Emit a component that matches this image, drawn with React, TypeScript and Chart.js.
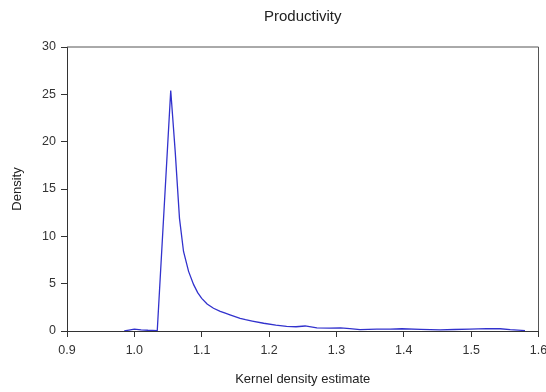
import React, { useEffect, useRef } from "react";
import { Chart, registerables } from "chart.js";

Chart.register(...registerables);

const xValues = [0.985, 0.992, 1.0, 1.01, 1.02, 1.034, 1.054, 1.0607, 1.067, 1.073, 1.0805, 1.088, 1.094, 1.1, 1.108, 1.1175, 1.1275, 1.135, 1.142, 1.157, 1.165, 1.175, 1.192, 1.21, 1.226, 1.24, 1.2535, 1.271, 1.29, 1.306, 1.32, 1.335, 1.36, 1.38, 1.397, 1.425, 1.454, 1.475, 1.498, 1.523, 1.543, 1.558, 1.58];
const densityValues = [0.0, 0.1, 0.2, 0.12, 0.08, 0.05, 25.4, 18.9, 11.9, 8.4, 6.3, 4.9, 4.05, 3.45, 2.85, 2.4, 2.08, 1.88, 1.7, 1.34, 1.2, 1.05, 0.82, 0.62, 0.48, 0.45, 0.53, 0.32, 0.3, 0.32, 0.25, 0.15, 0.2, 0.2, 0.24, 0.18, 0.12, 0.16, 0.2, 0.26, 0.24, 0.14, 0.05];
const xTickMin = 0.9;
const xTickMax = 1.6;
const xTickStep = 0.1;
const yTickMin = 0;
const yTickMax = 30;
const yTickStep = 5;
const chartTitle = "Productivity";
const xAxisTitle = "Kernel density estimate";
const yAxisTitle = "Density";

const FONT = "'Liberation Sans', Arial, sans-serif";

const frameLines = {
  id: "frameLines",
  afterDatasetsDraw(chart: any) {
    const { ctx, chartArea } = chart;
    ctx.save();
    ctx.strokeStyle = "#555";
    ctx.lineWidth = 1;
    ctx.beginPath();
    ctx.moveTo(chartArea.left, chartArea.top);
    ctx.lineTo(chartArea.right, chartArea.top);
    ctx.lineTo(chartArea.right, chartArea.bottom);
    ctx.stroke();
    ctx.restore();
  },
};

export default function App() {
  const ref = useRef<HTMLCanvasElement | null>(null);
  useEffect(() => {
    if (!ref.current) return;
    const points = xValues.map((x, i) => ({ x, y: densityValues[i] }));
    const chart = new Chart(ref.current, {
      type: "line",
      data: {
        datasets: [
          {
            data: points,
            borderColor: "rgb(50,50,205)",
            borderWidth: 1.3,
            pointRadius: 0,
            fill: false,
            tension: 0,
          },
        ],
      },
      options: {
        responsive: false,
        animation: false,
        layout: { padding: { left: 0, right: 7.5, top: 0, bottom: 0 } },
        plugins: {
          legend: { display: false },
          tooltip: { enabled: false },
          title: {
            display: true,
            text: chartTitle,
            fullSize: false,
            color: "#222",
            font: { family: FONT, size: 15, weight: "normal" },
            padding: { top: 8, bottom: 21 },
          },
        },
        scales: {
          x: {
            type: "linear",
            min: xTickMin,
            max: xTickMax,
            afterFit: (s: any) => {
              s.height = 61;
              s.paddingLeft = 0;
              s.paddingRight = 0;
            },
            ticks: {
              stepSize: xTickStep,
              color: "#333",
              padding: 6,
              font: { family: FONT, size: 12.5 },
              callback: (v: any) => Number(v).toFixed(1),
            },
            grid: { drawOnChartArea: false, tickLength: 6, color: "#333" },
            border: { display: true, color: "#333" },
            title: {
              display: true,
              text: xAxisTitle,
              color: "#222",
              font: { family: FONT, size: 13 },
              padding: { top: 0, bottom: 4.7 },
            },
          },
          y: {
            type: "linear",
            min: yTickMin,
            max: yTickMax,
            afterFit: (s: any) => {
              s.width = 67;
            },
            ticks: {
              stepSize: yTickStep,
              color: "#333",
              padding: 5,
              font: { family: FONT, size: 12.5 },
            },
            grid: { drawOnChartArea: false, tickLength: 6, color: "#333" },
            border: { display: true, color: "#333" },
            title: {
              display: true,
              text: yAxisTitle,
              color: "#222",
              font: { family: FONT, size: 13 },
              padding: { top: 9.2, bottom: 0 },
            },
          },
        },
      },
      plugins: [frameLines],
    });
    return () => chart.destroy();
  }, []);
  return (
    <div style={{ position: "absolute", left: 0, top: 0, width: 546, height: 392, background: "#fff" }}>
      <canvas ref={ref} width={546} height={392} style={{ display: "block" }} />
    </div>
  );
}
